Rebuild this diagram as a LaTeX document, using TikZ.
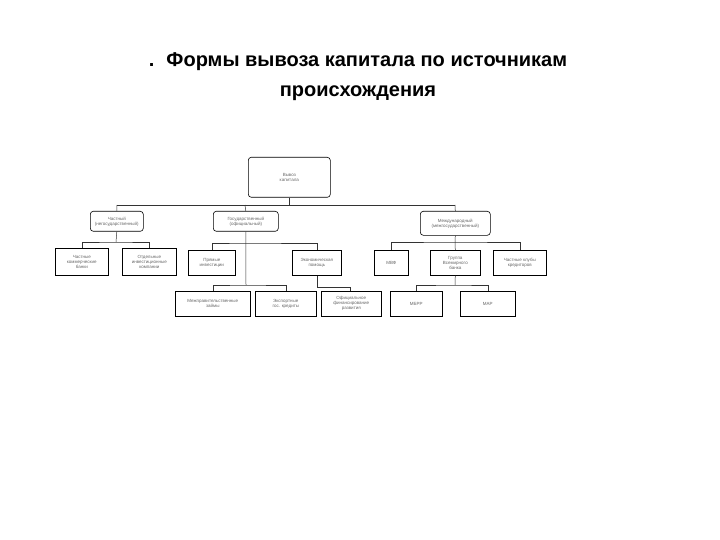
\documentclass[tikz,border=0pt]{standalone}
\usepackage{fontspec}
\setmainfont{Liberation Sans}
\begin{document}
\begin{tikzpicture}[x=1pt,y=-1pt,
 bx/.style={draw=black,line width=0.6pt,font=\fontsize{4.5}{5}\selectfont,text=gray!80!black,align=center,inner sep=0pt,anchor=north west},
 rb/.style={bx,rounded corners=3pt},
 ln/.style={draw=black!80,line width=0.5pt}]
\useasboundingbox (0,0) rectangle (720,540);
\node[font=\bfseries\fontsize{20}{30}\selectfont,align=center] (t) at (358,77) {.\hspace{12pt}Формы вывоза капитала по источникам\\ происхождения};
\node[rb,minimum width=82pt,minimum height=40pt] (r) at (248,157) {Вывоз\\капитала};
\node[rb,minimum width=53pt,minimum height=20pt] (a) at (90,211) {Частный\\(негосударственный)};
\node[rb,minimum width=65pt,minimum height=20pt] (b) at (213,211) {Государственный\\(официальный)};
\node[rb,minimum width=70pt,minimum height=24pt] (c) at (420,211) {Международный\\(межгосударственный)};
\node[bx,minimum width=53pt,minimum height=27pt] (a1) at (55,248) {Частные\\коммерческие\\банки};
\node[bx,minimum width=54pt,minimum height=27pt] (a2) at (122,248) {Отдельные\\инвестиционные\\компании};
\node[bx,minimum width=47pt,minimum height=25pt] (b1) at (188,250) {Прямые\\инвестиции};
\node[bx,minimum width=49pt,minimum height=25pt] (b2) at (292,250) {Экономическая\\помощь};
\node[bx,minimum width=34pt,minimum height=25pt] (c1) at (374,250) {МВФ};
\node[bx,minimum width=50pt,minimum height=25pt] (c2) at (430,250) {Группа\\Всемирного\\банка};
\node[bx,minimum width=53pt,minimum height=25pt] (c3) at (493,250) {Частные клубы\\кредиторов};
\node[bx,minimum width=75pt,minimum height=25pt] (d1) at (175,291) {Межправительственные\\займы};
\node[bx,minimum width=61pt,minimum height=25pt] (d2) at (255,291) {Экспортные\\гос. кредиты};
\node[bx,minimum width=60pt,minimum height=25pt] (d3) at (321,291) {Официальное\\финансирование\\развития};
\node[bx,minimum width=52pt,minimum height=25pt] (e1) at (390,291) {МБРР};
\node[bx,minimum width=55pt,minimum height=25pt] (e2) at (460,291) {МАР};
\coordinate (h1) at (117,205);
\coordinate (h2) at (455,205);
\draw[ln] (r.south) -- ++(0,8);
\draw[ln] (h1) -- (h2);
\draw[ln] (h1) -- (a.north);
\draw[ln] (245,205) -- (b.north);
\draw[ln] (h2) -- (c.north);
\draw[ln] (a.south) -- (116,242);
\draw[ln] (a1.north) |- (116,242) -| (a2.north);
\draw[ln] (b.south) -- (246,285);
\draw[ln] (b1.north) |- (246,243) -| (b2.north);
\draw[ln] (d1.north) |- (246,285) -| (d2.north);
\draw[ln] (b2.south) |- (350,287) -- (d3.north-|350,0);
\draw[ln] (c.south) -- (455,242);
\draw[ln] (c1.north) |- (455,242) -| (c3.north);
\draw[ln] (455,242) -- (c2.north);
\draw[ln] (c2.south) -- (455,285);
\draw[ln] (e1.north) |- (455,285) -| (e2.north);
\end{tikzpicture}
\end{document}
